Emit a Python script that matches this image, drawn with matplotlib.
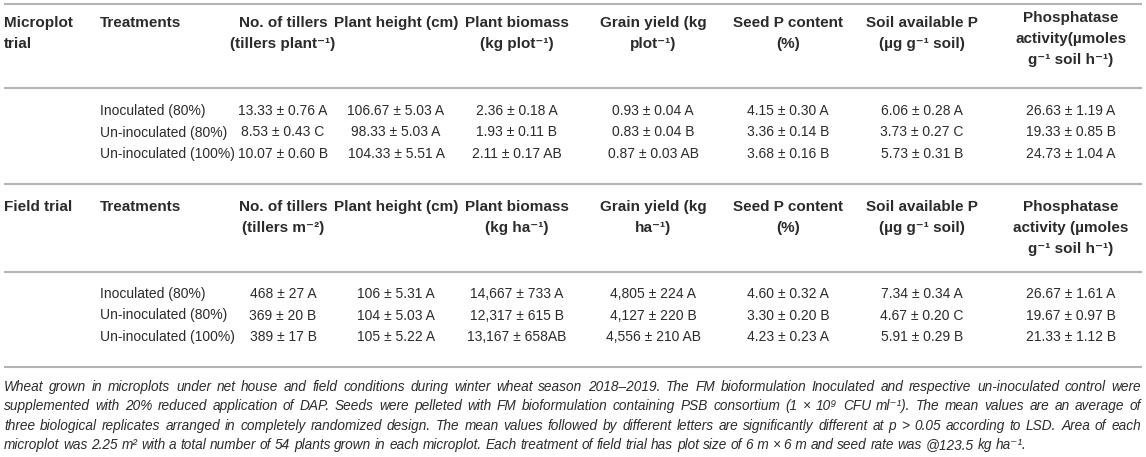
import matplotlib
matplotlib.use("Agg")
import matplotlib.pyplot as plt

W, H = 1146, 457

trial_names = [["Microplot", "trial"], ["Field trial"]]
treatments = ["Inoculated (80%)", "Un-inoculated (80%)", "Un-inoculated (100%)"]

micro_headers = [
    ["No. of tillers", "(tillers plant⁻¹)"],
    ["Plant height (cm)"],
    ["Plant biomass", "(kg plot⁻¹)"],
    ["Grain yield (kg", "plot⁻¹)"],
    ["Seed P content", "(%)"],
    ["Soil available P", "(µg g⁻¹ soil)"],
    ["Phosphatase", "activity(µmoles", "g⁻¹ soil h⁻¹)"],
]
field_headers = [
    ["No. of tillers", "(tillers m⁻²)"],
    ["Plant height (cm)"],
    ["Plant biomass", "(kg ha⁻¹)"],
    ["Grain yield (kg", "ha⁻¹)"],
    ["Seed P content", "(%)"],
    ["Soil available P", "(µg g⁻¹ soil)"],
    ["Phosphatase", "activity (µmoles", "g⁻¹ soil h⁻¹)"],
]

# one list per column, rows in treatment order
micro_tillers = ["13.33 ± 0.76 A", "8.53 ± 0.43 C", "10.07 ± 0.60 B"]
micro_height = ["106.67 ± 5.03 A", "98.33 ± 5.03 A", "104.33 ± 5.51 A"]
micro_biomass = ["2.36 ± 0.18 A", "1.93 ± 0.11 B", "2.11 ± 0.17 AB"]
micro_grain = ["0.93 ± 0.04 A", "0.83 ± 0.04 B", "0.87 ± 0.03 AB"]
micro_seed_p = ["4.15 ± 0.30 A", "3.36 ± 0.14 B", "3.68 ± 0.16 B"]
micro_soil_p = ["6.06 ± 0.28 A", "3.73 ± 0.27 C", "5.73 ± 0.31 B"]
micro_phos = ["26.63 ± 1.19 A", "19.33 ± 0.85 B", "24.73 ± 1.04 A"]

field_tillers = ["468 ± 27 A", "369 ± 20 B", "389 ± 17 B"]
field_height = ["106 ± 5.31 A", "104 ± 5.03 A", "105 ± 5.22 A"]
field_biomass = ["14,667 ± 733 A", "12,317 ± 615 B", "13,167 ± 658AB"]
field_grain = ["4,805 ± 224 A", "4,127 ± 220 B", "4,556 ± 210 AB"]
field_seed_p = ["4.60 ± 0.32 A", "3.30 ± 0.20 B", "4.23 ± 0.23 A"]
field_soil_p = ["7.34 ± 0.34 A", "4.67 ± 0.20 C", "5.91 ± 0.29 B"]
field_phos = ["26.67 ± 1.61 A", "19.67 ± 0.97 B", "21.33 ± 1.12 B"]

footnote = [
    "Wheat grown in microplots under net house and field conditions during winter wheat season 2018–2019. "
    "The FM bioformulation Inoculated and respective un-inoculated control were",
    "supplemented with 20% reduced application of DAP. Seeds were pelleted with FM bioformulation containing "
    "PSB consortium (1 × 10⁹ CFU ml⁻¹). The mean values are an average of",
    "three biological replicates arranged in completely randomized design. The mean values followed by different "
    "letters are significantly different at p > 0.05 according to LSD. Area of each",
    "microplot was 2.25 m² with a total number of 54 plants grown in each microplot. Each treatment of field "
    "trial has plot size of 6\u00a0m × 6\u00a0m and seed rate was @123.5 kg ha⁻¹.",
]

FONT = ["Liberation Sans", "DejaVu Sans"]
TXT = "#2b2b2b"
RULE = "#b4b4b4"

col_x = [283, 396, 517, 653, 788, 922, 1071]
x_trial, x_treat = 4, 100
line_h = 21
row_h = 21.5
head_size = 11.0
body_size = 10.0
foot_size = 9.8


def draw_section(ax, names, headers, columns, y_line, y_head, y_rows0, y_end, phos_shift=0):
    ax.plot([4, 1142], [y_line, y_line], color=RULE, lw=1.5, solid_capstyle="butt")
    for k, s in enumerate(names):
        ax.text(x_trial, y_head + k * line_h, s, fontsize=head_size, fontweight="bold",
                family=FONT, color=TXT, va="center", ha="left")
    ax.text(x_treat, y_head, "Treatments", fontsize=head_size, fontweight="bold",
            family=FONT, color=TXT, va="center", ha="left")
    for j, hdr in enumerate(headers):
        y0 = y_head - (phos_shift if len(hdr) == 3 else 0)
        for k, s in enumerate(hdr):
            ax.text(col_x[j], y0 + k * line_h, s, fontsize=head_size, fontweight="bold",
                    family=FONT, color=TXT, va="center", ha="center")
    y_mid = y_head + 65
    ax.plot([4, 1142], [y_mid, y_mid], color=RULE, lw=1.5, solid_capstyle="butt")
    for i, t in enumerate(treatments):
        y = y_rows0 + i * row_h
        ax.text(x_treat, y, t, fontsize=body_size, family=FONT, color=TXT, va="center", ha="left")
        for j, col in enumerate(columns):
            ax.text(col_x[j], y, col[i], fontsize=body_size, family=FONT, color=TXT,
                    va="center", ha="center")
    if y_end is not None:
        ax.plot([4, 1142], [y_end, y_end], color=RULE, lw=1.5, solid_capstyle="butt")


def draw_justified(ax, renderer, line, y, x0, x1, last=False):
    words = line.split(" ")
    texts = [ax.text(0, y, w, fontsize=foot_size, style="italic", family=FONT, color=TXT,
                     va="center", ha="left") for w in words]
    widths = [t.get_window_extent(renderer).width for t in texts]
    gap = 3.7 if last else (x1 - x0 - sum(widths)) / (len(words) - 1)
    x = x0
    for t, w in zip(texts, widths):
        t.set_x(x)
        x += w + gap


fig = plt.figure(figsize=(W / 100, H / 100), dpi=100)
ax = fig.add_axes([0, 0, 1, 1])
ax.set_xlim(0, W)
ax.set_ylim(H, 0)
ax.axis("off")

micro_cols = [micro_tillers, micro_height, micro_biomass, micro_grain,
              micro_seed_p, micro_soil_p, micro_phos]
field_cols = [field_tillers, field_height, field_biomass, field_grain,
              field_seed_p, field_soil_p, field_phos]

draw_section(ax, trial_names[0], micro_headers, micro_cols, 4, 23, 111, None, phos_shift=5)
draw_section(ax, trial_names[1], field_headers, field_cols, 184, 207, 294, 367)

renderer = fig.canvas.get_renderer()
foot_y = [387, 406, 426, 445]
for k, line in enumerate(footnote):
    draw_justified(ax, renderer, line, foot_y[k], 4, 1141, last=(k == len(footnote) - 1))

fig.savefig("out.png", dpi=100)
